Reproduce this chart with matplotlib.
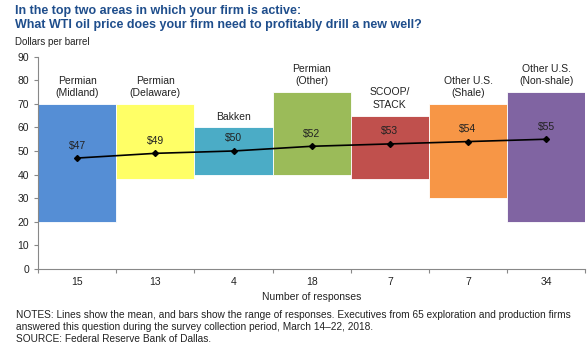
import numpy as np
import matplotlib.pyplot as plt

plt.rcParams['font.family'] = ['Liberation Sans', 'DejaVu Sans']

# data
regions = ['Permian\n(Midland)', 'Permian\n(Delaware)', 'Bakken', 'Permian\n(Other)',
           'SCOOP/\nSTACK', 'Other U.S.\n(Shale)', 'Other U.S.\n(Non-shale)']
responses = [15, 13, 4, 18, 7, 7, 34]
low = [20, 38, 40, 40, 38, 30, 20]
high = [70, 70, 60, 75, 65, 70, 75]
mean = [47, 49, 50, 52, 53, 54, 55]
colors = ['#558ED5', '#FFFF66', '#4BACC6', '#9BBB59', '#C0504D', '#F79646', '#8064A2']

fig = plt.figure(figsize=(5.87, 3.47), dpi=100)
ax = fig.add_axes([0.065, 0.226, 0.932, 0.61])

x = np.arange(len(regions))
low = np.array(low)
high = np.array(high)
ax.bar(x, high - low, bottom=low, width=1.0, color=colors, edgecolor='white', linewidth=0.6, zorder=2)
ax.plot(x, mean, color='black', lw=1.2, marker='D', ms=3, zorder=3)

for i in range(len(regions)):
    ax.text(x[i], high[i] + 2.5, regions[i], ha='center', va='bottom', fontsize=7.5,
            color='#222222', linespacing=1.3)
    ax.text(x[i], mean[i] + 3.2, '$%d' % mean[i], ha='center', va='bottom', fontsize=7.5,
            color='#222222')

ax.set_xlim(-0.5, len(regions) - 0.5)
ax.set_ylim(0, 90)
ax.set_yticks(range(0, 91, 10))
ax.tick_params(axis='y', labelsize=7.5, length=3, color='#888888', labelcolor='#222222')

ax.set_xticks(np.arange(-0.5, len(regions), 1.0))
ax.set_xticklabels([])
ax.set_xticks(x, minor=True)
ax.set_xticklabels([str(r) for r in responses], minor=True)
ax.tick_params(axis='x', which='major', length=3, color='#888888')
ax.tick_params(axis='x', which='minor', length=0, labelsize=7.5, pad=6, labelcolor='#222222')
ax.set_xlabel('Number of responses', fontsize=7.5, color='#222222', labelpad=4)

for s in ['top', 'right']:
    ax.spines[s].set_visible(False)
ax.spines['left'].set_color('#888888')
ax.spines['bottom'].set_color('#888888')

fig.text(0.026, 0.968, 'In the top two areas in which your firm is active:', fontsize=9.0,
         fontweight='bold', color='#1F4E8C', va='center')
fig.text(0.026, 0.928, 'What WTI oil price does your firm need to profitably drill a new well?',
         fontsize=9.0, fontweight='bold', color='#1F4E8C', va='center')
fig.text(0.026, 0.878, 'Dollars per barrel', fontsize=7, color='#222222', va='center')

fig.text(0.027, 0.093, 'NOTES: Lines show the mean, and bars show the range of responses. '
         'Executives from 65 exploration and production firms', fontsize=7.3, color='#222222', va='center')
fig.text(0.027, 0.058, 'answered this question during the survey collection period, March 14\u201322, 2018.',
         fontsize=7.3, color='#222222', va='center')
fig.text(0.027, 0.023, 'SOURCE: Federal Reserve Bank of Dallas.', fontsize=7.3, color='#222222', va='center')

fig.savefig('out.png', dpi=100)
